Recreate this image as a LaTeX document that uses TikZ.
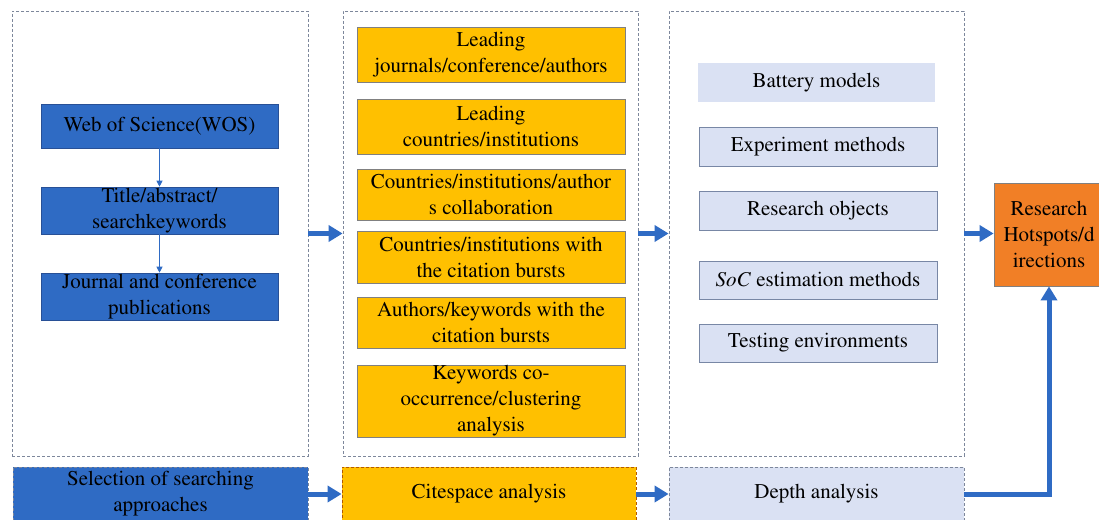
\documentclass[tikz,border=0pt]{standalone}
\usepackage[T1]{fontenc}
\usepackage{mathptmx}
\usetikzlibrary{arrows.meta}
\definecolor{bblue}{RGB}{47,107,196}
\definecolor{bbord}{RGB}{40,80,150}
\definecolor{oyel}{RGB}{255,192,0}
\definecolor{lblue}{RGB}{218,225,243}
\definecolor{lbord}{RGB}{120,135,165}
\definecolor{hot}{RGB}{241,127,38}
\definecolor{cgray}{RGB}{125,135,155}
\tikzset{
  box/.style={rectangle,inner sep=0pt,align=center,text=black,
    font=\rmfamily\fontsize{21}{26}\selectfont},
  container/.style={rectangle,draw=cgray,line width=0.8pt,dash pattern=on 3pt off 2pt},
  bluebox/.style={box,fill=bblue,draw=bbord,line width=0.6pt},
  orabox/.style={box,fill=oyel,draw=gray,line width=0.8pt},
  lightbox/.style={box,fill=lblue,draw=lbord,line width=0.8pt},
  hotbox/.style={box,fill=hot,draw=gray,line width=0.8pt},
  bottombox/.style={box,line width=0.8pt,dash pattern=on 3pt off 2pt},
  bigarrow/.style={draw=bblue,line width=5pt,-{Triangle[length=14pt,width=16pt]}},
  thinarrow/.style={draw=bblue,line width=1pt,-{Triangle[length=6pt,width=6pt]}}
}
\begin{document}
\begin{tikzpicture}[x=1pt,y=-1pt]
\clip (0,0) rectangle (1099,519);
\fill[white] (0,0) rectangle (1099,519);
% containers
\node[container,minimum width=296pt,minimum height=445pt] (leftc) at (160,233.5) {};
\node[container,minimum width=295pt,minimum height=445pt] (midc) at (490.5,233.5) {};
\node[container,minimum width=295pt,minimum height=445pt] (rightc) at (816.5,233.5) {};
% left column
\node[bluebox,minimum width=237pt,minimum height=44pt] (wos) at (159.5,126) {Web of Science(WOS)};
\node[bluebox,minimum width=237pt,minimum height=47pt] (title) at (159.5,210.5) {Title/abstract/\\searchkeywords};
\node[bluebox,minimum width=237pt,minimum height=47pt] (journal) at (159.5,296.5) {Journal and conference\\publications};
% middle column
\node[orabox,minimum width=268pt,minimum height=55pt] (o1) at (491,54.5) {Leading\\journals/conference/authors};
\node[orabox,minimum width=268pt,minimum height=55pt] (o2) at (491,126.5) {Leading\\countries/institutions};
\node[orabox,minimum width=268pt,minimum height=51pt] (o3) at (491,194.5) {Countries/institutions/author\\s collaboration};
\node[orabox,minimum width=268pt,minimum height=52pt] (o4) at (491,257) {Countries/institutions with\\the citation bursts};
\node[orabox,minimum width=268pt,minimum height=51pt] (o5) at (491,322.5) {Authors/keywords with the\\citation bursts};
\node[orabox,minimum width=268pt,minimum height=72pt] (o6) at (491,401) {Keywords co-\\occurrence/clustering\\analysis};
% right column
\node[box,fill=lblue,minimum width=237pt,minimum height=39pt] (b1) at (816.5,82.5) {Battery models};
\node[lightbox,minimum width=238pt,minimum height=39pt] (b2) at (818,146.5) {Experiment methods};
\node[lightbox,minimum width=238pt,minimum height=39pt] (b3) at (818,210.5) {Research objects};
\node[lightbox,minimum width=238pt,minimum height=38pt] (b4) at (818,280) {\textit{SoC} estimation methods};
\node[lightbox,minimum width=238pt,minimum height=38pt] (b5) at (818,343) {Testing environments};
% bottom row
\node[bottombox,fill=bblue,draw=cgray,minimum width=295pt,minimum height=54pt] (sel) at (160.5,494) {Selection of searching\\approaches};
\node[bottombox,fill=oyel,draw=orange!70!black,minimum width=294pt,minimum height=54pt] (cite) at (489,494) {Citespace analysis};
\node[bottombox,fill=lblue,draw=cgray,minimum width=295pt,minimum height=54pt] (depth) at (816.5,494) {Depth analysis};
% hotspots
\node[hotbox,minimum width=110pt,minimum height=103pt] (hot) at (1049,234.5) {Research\\Hotspots/d\\irections};
% connectors
\draw[thinarrow] (wos.south) -- (title.north);
\draw[thinarrow] (title.south) -- (journal.north);
\draw[bigarrow] (leftc.east) -- (midc.west);
\draw[bigarrow] (midc.east) -- (rightc.west);
\draw[bigarrow] (rightc.east) -- (rightc.east -| hot.west);
\draw[bigarrow] (sel.east) -- (cite.west);
\draw[bigarrow] (cite.east) -- (depth.west);
\draw[bigarrow] (depth.east) -| (hot.south);
\end{tikzpicture}
\end{document}
